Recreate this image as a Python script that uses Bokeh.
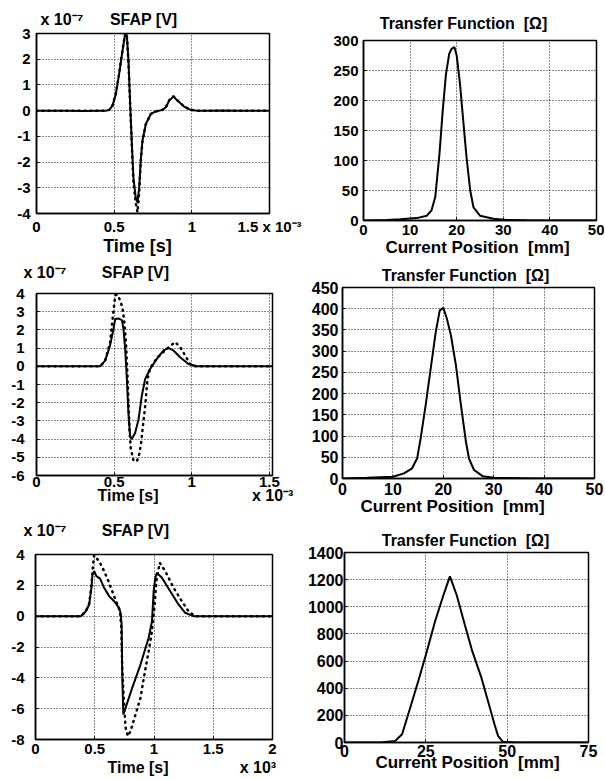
from bokeh.plotting import figure
from bokeh.layouts import column, row
from bokeh.models import Label, FixedTicker, NumeralTickFormatter, Range1d
from bokeh.embed import file_html
from bokeh.resources import INLINE

FONT = "Liberation Sans"
NB = "\u00a0"

# ---------------- data (time in units of 1e-3 s, SFAP in units of 1e-7 V) ----------------
# Row 1 - SFAP
t1_solid = [0, 0.1, 0.2, 0.3, 0.4, 0.45, 0.468, 0.489, 0.511, 0.532, 0.554, 0.569, 0.576, 0.582,
            0.592, 0.603, 0.614, 0.624, 0.639, 0.650, 0.661, 0.671, 0.682, 0.704, 0.736, 0.768,
            0.811, 0.833, 0.854, 0.882, 0.907, 0.950, 0.993, 1.036, 1.1, 1.2, 1.3, 1.4, 1.5]
v1_solid = [0, 0, 0, -0.01, 0, 0, 0.03, 0.19, 0.65, 1.43, 2.34, 2.92, 3.0, 2.9,
            1.95, 0.26, -1.3, -2.6, -3.38, -3.57, -2.99, -1.95, -1.17, -0.52, -0.13, -0.03,
            0.03, 0.13, 0.39, 0.55, 0.39, 0.16, 0.03, 0, 0, 0.01, 0, 0, 0]
t1_dash = [0, 0.1, 0.2, 0.3, 0.4, 0.45, 0.468, 0.489, 0.511, 0.532, 0.554, 0.569, 0.576, 0.582,
           0.592, 0.603, 0.614, 0.624, 0.639, 0.650, 0.661, 0.671, 0.682, 0.704, 0.736, 0.768,
           0.811, 0.833, 0.854, 0.882, 0.907, 0.950, 0.993, 1.036, 1.1, 1.2, 1.3, 1.4, 1.5]
v1_dash = [0, 0, 0, 0, 0, 0, 0.03, 0.2, 0.66, 1.45, 2.36, 2.95, 3.02, 2.9,
           1.9, 0.2, -1.4, -2.8, -3.6, -3.95, -3.2, -2.0, -1.2, -0.52, -0.13, -0.03,
           0.03, 0.13, 0.4, 0.56, 0.4, 0.16, 0.03, 0, 0, 0, 0, 0, 0]

# Row 1 - transfer function (current position in mm, ohm)
x2 = [0, 5, 7.9, 11.4, 13.6, 14.6, 15.4, 16.3, 17.0, 17.7, 18.4, 18.9, 19.5, 20.0, 20.7,
      21.4, 22.1, 22.9, 23.6, 25.0, 27.9, 30.7, 35, 40, 45, 50]
y2 = [0, 1, 2, 4, 8, 17, 39, 111, 183, 244, 278, 286, 289, 275, 228,
      167, 106, 50, 22, 8, 3, 1, 0.5, 0, 0, 0]

# Row 2 - SFAP
t3_solid = [0, 0.1, 0.2, 0.3, 0.41, 0.442, 0.474, 0.496, 0.507, 0.528, 0.550, 0.560, 0.571,
            0.582, 0.592, 0.603, 0.614, 0.635, 0.657, 0.678, 0.700, 0.732, 0.775, 0.818, 0.850,
            0.882, 0.925, 0.979, 1.033, 1.1, 1.2, 1.3, 1.4, 1.52]
v3_solid = [0, 0, 0, 0, 0, 0.31, 1.15, 2.07, 2.6, 2.63, 2.54, 2.07, 0.96,
            -0.7, -2.56, -3.85, -4.0, -3.67, -2.93, -1.63, -0.7, -0.15, 0.41, 0.87, 1.0,
            0.87, 0.5, 0.13, 0, 0, 0, 0, 0, 0]
t3_dot = [0, 0.1, 0.2, 0.3, 0.41, 0.442, 0.474, 0.490, 0.507, 0.520, 0.540, 0.554, 0.565, 0.577,
          0.586, 0.592, 0.599, 0.607, 0.624, 0.646, 0.663, 0.674, 0.685, 0.700, 0.715, 0.732,
          0.775, 0.839, 0.893, 0.925, 0.957, 0.989, 1.02, 1.1, 1.2, 1.3, 1.4, 1.52]
v3_dot = [0, 0, 0, 0, 0, 0.3, 1.3, 2.6, 3.9, 3.95, 3.6, 3.2, 2.5, 1.2,
          -0.5, -1.9, -3.5, -4.5, -5.15, -5.24, -4.78, -4.19, -3.3, -2.19, -0.7, -0.1,
          0.45, 0.96, 1.33, 1.06, 0.6, 0.13, 0, 0, 0, 0, 0, 0]

# Row 2 - transfer function
x4 = [0, 4.9, 10, 12.2, 13.8, 14.8, 15.5, 16.5, 17.5, 18.5, 19.3, 20.0, 20.7, 21.5, 22.5,
      23.5, 24.5, 25.1, 26.1, 27.8, 30.1, 38, 50]
y4 = [0, 1.6, 4, 12, 24, 47, 94, 173, 259, 345, 396, 402, 377, 338, 267,
      173, 86, 47, 20, 5.5, 1.6, 0, 0]

# Row 3 - SFAP
t5_solid = [0, 0.1, 0.2, 0.3, 0.383, 0.425, 0.453, 0.472, 0.481, 0.495, 0.514, 0.545, 0.579,
            0.621, 0.663, 0.705, 0.718, 0.727, 0.732, 0.741, 0.760, 0.816, 0.886, 0.955, 0.983,
            0.997, 1.011, 1.025, 1.067, 1.137, 1.207, 1.263, 1.333, 1.4, 1.5, 1.6, 1.7, 1.8,
            1.9, 2.0]
v5_solid = [0, 0, 0, 0, 0, 0.32, 0.76, 1.84, 2.7, 2.92, 2.6, 2.44, 1.84,
            1.3, 0.97, 0.54, 0.2, -0.54, -3.78, -6.38, -5.95, -4.65, -3.14, -1.4, -0.32,
            1.62, 2.49, 2.81, 2.49, 1.62, 0.76, 0.22, 0, 0, 0, 0, 0, 0,
            0, 0]
t5_dot = [0, 0.1, 0.2, 0.3, 0.383, 0.425, 0.453, 0.472, 0.485, 0.495, 0.537, 0.579, 0.621,
          0.663, 0.713, 0.724, 0.732, 0.746, 0.760, 0.779, 0.802, 0.844, 0.886, 0.914, 0.955,
          0.983, 1.003, 1.020, 1.048, 1.095, 1.165, 1.235, 1.291, 1.347, 1.4, 1.5, 1.6, 1.7,
          1.8, 1.9, 2.0]
v5_dot = [0, 0, 0, 0, 0, 0.32, 0.8, 2.0, 3.3, 3.95, 3.57, 2.92, 2.16,
          1.3, 0.32, -0.76, -3.35, -5.5, -7.24, -7.78, -7.46, -6.38, -5.3, -4.0, -2.27,
          -0.97, 0.54, 2.27, 3.46, 2.92, 1.84, 0.97, 0.32, 0, 0, 0, 0, 0,
          0, 0, 0]

# Row 3 - transfer function
x6 = [0, 11.1, 15.6, 17.7, 20.2, 22.8, 25.3, 27.8, 30.4, 32.4, 34.5, 37.0, 39.3, 42.1,
      44.4, 46.1, 47.2, 48.7, 52.7, 75]
y6 = [0, 0, 12, 61, 256, 463, 671, 890, 1085, 1224, 1085, 866, 671, 476,
      280, 134, 49, 5, 0, 0]

# ticks
sfap_x_ticks = [0, 0.5, 1, 1.5]
sfap3_x_ticks = [0, 0.5, 1, 1.5, 2]
tf_x_ticks = [0, 10, 20, 30, 40, 50]
tf3_x_ticks = [0, 25, 50, 75]
y1_ticks = [-4, -3, -2, -1, 0, 1, 2, 3]
y2_ticks = [0, 50, 100, 150, 200, 250, 300]
y3_ticks = [-6, -5, -4, -3, -2, -1, 0, 1, 2, 3, 4]
y4_ticks = [0, 50, 100, 150, 200, 250, 300, 350, 400, 450]
y5_ticks = [-8, -6, -4, -2, 0, 2, 4]
y6_ticks = [0, 200, 400, 600, 800, 1000, 1200, 1400]

# texts
sfap_title_1 = "x 10\u207b\u2077" + NB * 6 + "SFAP [V]"
sfap_title_2 = "x 10\u207b\u2077" + NB * 8 + "SFAP [V]"
tf_title = "Transfer Function" + NB * 2 + "[\u03a9]"
pos_label = "Current Position" + NB * 2 + "[mm]"
time_label_1 = "Time [s]"
time_label_2 = "Time [s]" + NB * 21 + "x 10\u207b\u00b3"
time_label_3 = "Time [s]" + NB * 16 + "x 10\u00b3"
last_tick_1 = "1.5 x 10\u207b\u00b3"


def panel(w, h, borders, xr, yr, xt, yt, tick_size="15px", y_standoff=5, x_standoff=4):
    bl, br, bt, bb = borders
    p = figure(width=w, height=h, x_range=Range1d(*xr), y_range=Range1d(*yr),
               output_backend="svg", toolbar_location=None,
               min_border_left=bl, min_border_right=br,
               min_border_top=bt, min_border_bottom=bb)
    p.title.visible = False
    p.background_fill_color = "white"
    p.border_fill_color = "white"
    p.outline_line_color = "black"
    p.outline_line_width = 1.5
    p.xaxis.ticker = FixedTicker(ticks=xt)
    p.yaxis.ticker = FixedTicker(ticks=yt)
    for ax, so in ((p.xaxis, x_standoff), (p.yaxis, y_standoff)):
        ax.formatter = NumeralTickFormatter(format="0.[0]")
        ax.major_label_text_font = FONT
        ax.major_label_text_font_style = "bold"
        ax.major_label_text_font_size = tick_size
        ax.major_label_text_color = "black"
        ax.major_label_standoff = so
        ax.axis_line_color = "black"
        ax.axis_line_width = 1.5
        ax.major_tick_in = 3
        ax.major_tick_out = 0
        ax.major_tick_line_color = "black"
        ax.minor_tick_line_color = None
    for g in (p.xgrid, p.ygrid):
        g.grid_line_color = "black"
        g.grid_line_dash = "1 2"
        g.grid_line_width = 1
        g.grid_line_alpha = 0.9
    return p


def txt(p, side, text, x, y, size, align="left"):
    # x, y: canvas pixels of this figure (origin top-left)
    p.add_layout(Label(x=x, y=y, x_units="canvas", y_units="canvas", text=text,
                       text_font=FONT, text_font_style="bold", text_font_size=size,
                       text_align=align, text_baseline="middle", text_color="black"), side)


SOLID = dict(line_color="black", line_width=2)
DOT = dict(line_color="black", line_width=2.5, line_dash="1 5", line_cap="round")

# ---------------- row 1 (page y 0..262) ----------------
p1 = panel(318, 262, (36, 49, 33, 49), (0, 1.5), (-4, 3), sfap_x_ticks, y1_ticks, y_standoff=6)
p1.xaxis.major_label_overrides = {1.5: last_tick_1}
p1.line(t1_dash, v1_dash, **DOT)
p1.line(t1_solid, v1_solid, **SOLID)
txt(p1, "above", sfap_title_1, 40, 19, "16px")
txt(p1, "below", time_label_1, 137, 245, "18px", "center")

p2 = panel(286, 262, (45, 8, 40, 42), (0, 50), (0, 300), tf_x_ticks, y2_ticks)
p2.line(x2, y2, **SOLID)
txt(p2, "above", tf_title, 145, 23, "16px", "center")
txt(p2, "below", pos_label, 159, 247, "17px", "center")

# ---------------- row 2 (page y 262..522) ----------------
p3 = panel(303, 260, (36, 31, 31, 47), (0, 1.52), (-6, 4), sfap_x_ticks, y3_ticks,
           y_standoff=12, x_standoff=1)
p3.line(t3_dot, v3_dot, **DOT)
p3.line(t3_solid, v3_solid, **SOLID)
txt(p3, "above", sfap_title_2, 23, 10, "16px")
txt(p3, "below", time_label_2, 97, 233, "16px")

p4 = panel(301, 260, (39, 10, 25, 44), (0, 50), (0, 450), tf_x_ticks, y4_ticks,
           tick_size="16px", y_standoff=4)
p4.line(x4, y4, **SOLID)
txt(p4, "above", tf_title, 162, 13, "16px", "center")
txt(p4, "below", pos_label, 149, 244, "17px", "center")

# ---------------- row 3 (page y 522..778) ----------------
p5 = panel(298, 256, (35, 26, 32, 39), (0, 2.0), (-8, 4), sfap3_x_ticks, y5_ticks,
           y_standoff=11, x_standoff=4)
p5.line(t5_dot, v5_dot, **DOT)
p5.line(t5_solid, v5_solid, **SOLID)
txt(p5, "above", sfap_title_2, 23, 8, "16px")
txt(p5, "below", time_label_3, 107, 245, "16px")

p6 = panel(306, 256, (46, 16, 30, 34), (0, 75), (0, 1400), tf3_x_ticks, y6_ticks,
           tick_size="16px", y_standoff=1, x_standoff=2)
p6.line(x6, y6, **SOLID)
txt(p6, "above", tf_title, 167, 18, "16px", "center")
txt(p6, "below", pos_label, 169, 240, "17px", "center")

layout = column(row(column(p1), column(p2)),
                row(column(p3), column(p4)),
                row(column(p5), column(p6)))

open("out.html", "w").write(file_html(layout, INLINE))
